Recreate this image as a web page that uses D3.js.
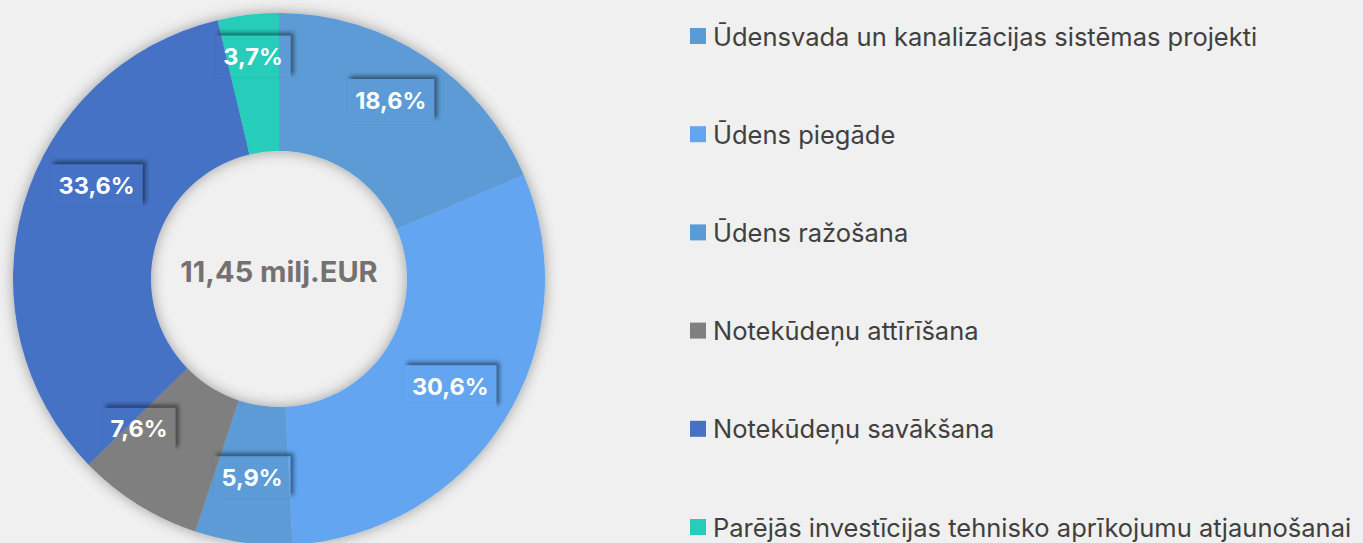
<!DOCTYPE html>
<html>
<head>
<meta charset="utf-8">
<script src="https://cdn.jsdelivr.net/npm/d3@7"></script>
<style>
  html, body { margin: 0; padding: 0; background: #f0f0f0; }
  svg { display: block; }
</style>
</head>
<body>
<div id="chart"></div>
<script>
// data
var categories = [
	"Ūdensvada un kanalizācijas sistēmas projekti",
	"Ūdens piegāde",
	"Ūdens ražošana",
	"Notekūdeņu attīrīšana",
	"Notekūdeņu savākšana",
	"Parējās investīcijas tehnisko aprīkojumu atjaunošanai"
];
var shares = [18.6, 30.6, 5.9, 7.6, 33.6, 3.7];
var colors = ["#5b9bd5", "#63a5f0", "#5b9bd5", "#7f7f7f", "#4472c4", "#26cdba"];
var totalLabel = "11,45 milj.EUR";

(function() {
	var width = 1363, height = 543;
	var cx = 279, cy = 279, outerR = 266, innerR = 128;

	var lv = d3.formatLocale({ decimal: ",", thousands: " ", grouping: [3], currency: ["", ""] });
	var pct = function(v) { return lv.format(".1f")(v) + "%"; };

	var svg = d3.select("#chart")
				.append("svg")
				.attr("width", width)
				.attr("height", height);

	var defs = svg.append("defs");

	// soft shadow around the ring (shows outside and inside the hole)
	var f = defs.append("filter").attr("id", "ringShadow")
		.attr("x", "-20%").attr("y", "-20%").attr("width", "140%").attr("height", "140%");
	f.append("feDropShadow")
		.attr("dx", 0).attr("dy", 0)
		.attr("stdDeviation", 7)
		.attr("flood-color", "#000")
		.attr("flood-opacity", 0.35);

	var bf = defs.append("filter").attr("id", "boxBlur")
		.attr("x", "-30%").attr("y", "-50%").attr("width", "160%").attr("height", "200%");
	bf.append("feGaussianBlur").attr("stdDeviation", 2.2);

	var pie = d3.pie().sort(null).value(function(d) { return d; });
	var arcs = pie(shares);

	var arc = d3.arc().innerRadius(innerR).outerRadius(outerR);

	var ring = svg.append("g")
		.attr("transform", "translate(" + cx + "," + cy + ")")
		.attr("filter", "url(#ringShadow)");

	ring.selectAll("path.slice")
		.data(arcs)
		.enter().append("path")
		.attr("class", "slice")
		.attr("d", arc)
		.attr("fill", function(d, i) { return colors[i]; });

	// centre total
	svg.append("text")
		.attr("x", cx)
		.attr("y", cy - 8)
		.attr("text-anchor", "middle")
		.attr("dominant-baseline", "central")
		.style("font-family", "Inter, 'Open Sans', sans-serif")
		.style("font-weight", 700)
		.style("font-size", "29px")
		.style("fill", "#767171")
		.text(totalLabel);

	// data labels (Excel nudged a couple of them round a bit)
	var angleNudge = [-1.5, 0, 0, 11, 11, 0];
	var radiusFor = [211, 202, 200, 205, 205, 224];

	var lab = svg.append("g").attr("transform", "translate(" + cx + "," + cy + ")");
	arcs.forEach(function(d, i) {
		var a = (d.startAngle + d.endAngle) / 2 + angleNudge[i] * Math.PI / 180;
		var r = radiusFor[i];
		var x = r * Math.sin(a), y = -r * Math.cos(a);
		var g = lab.append("g").attr("transform", "translate(" + x + "," + y + ")");

		var t = g.append("text")
			.attr("text-anchor", "middle")
			.attr("dominant-baseline", "central")
			.style("font-family", "Inter, 'Open Sans', sans-serif")
			.style("font-weight", 700)
			.style("font-size", "23.5px")
			.style("fill", "#fff")
			.text(pct(shares[i]));

		var bb = t.node().getBBox();
		var bw = bb.width + 16, bh = 42;

		// shadow only outside the (transparent) label box
		var mid = "lblMask" + i;
		var m = defs.append("mask").attr("id", mid)
			.attr("maskUnits", "userSpaceOnUse")
			.attr("x", -bw).attr("y", -bh).attr("width", bw * 2).attr("height", bh * 2);
		m.append("rect").attr("x", -bw).attr("y", -bh).attr("width", bw * 2).attr("height", bh * 2).attr("fill", "#fff");
		m.append("rect").attr("x", -bw / 2).attr("y", -bh / 2).attr("width", bw).attr("height", bh).attr("fill", "#000");

		g.insert("g", "text")
			.attr("mask", "url(#" + mid + ")")
			.append("rect")
			.attr("x", -bw / 2 + 3)
			.attr("y", -bh / 2 - 3)
			.attr("width", bw)
			.attr("height", bh)
			.attr("fill", "#000")
			.attr("opacity", 0.45)
			.attr("filter", "url(#boxBlur)");
	});

	// legend
	var legend = svg.append("g").attr("transform", "translate(690,36)");
	var items = legend.selectAll("g.item")
		.data(categories)
		.enter().append("g")
		.attr("class", "item")
		.attr("transform", function(d, i) { return "translate(0," + (i * 98.2) + ")"; });

	items.append("rect")
		.attr("x", 0).attr("y", -8)
		.attr("width", 16).attr("height", 16)
		.attr("fill", function(d, i) { return colors[i]; });

	items.append("text")
		.attr("x", 23)
		.attr("y", 0)
		.attr("dominant-baseline", "central")
		.style("font-family", "Inter, 'Open Sans', sans-serif")
		.style("font-size", "25.5px")
		.style("fill", "#404040")
		.text(function(d) { return d; });
})();
</script>
</body>
</html>
